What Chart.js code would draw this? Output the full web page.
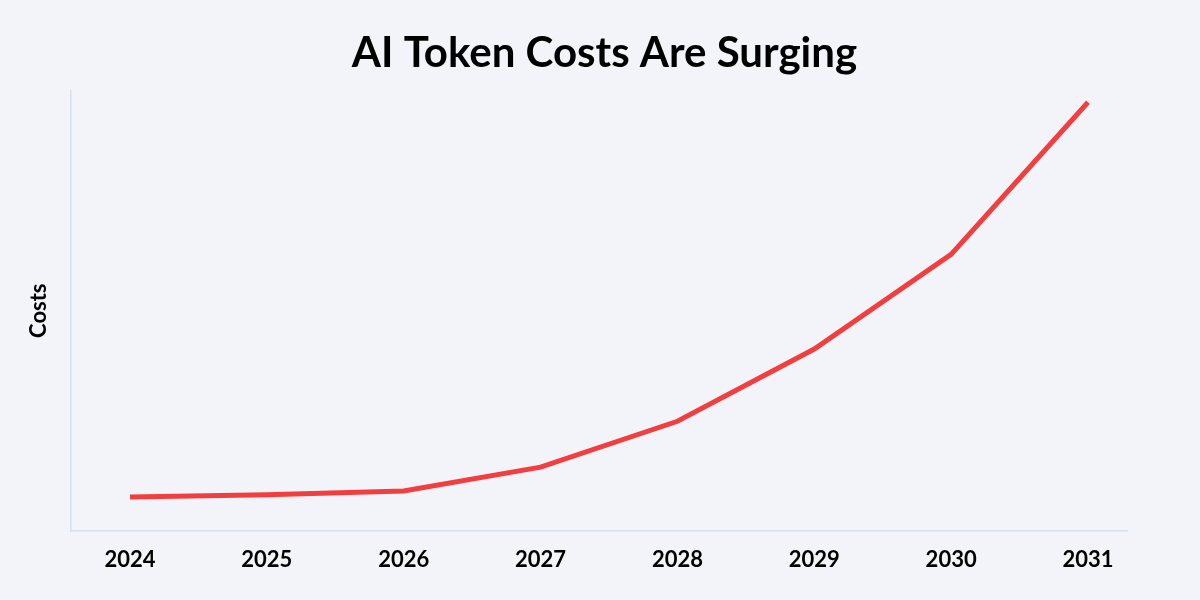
<!DOCTYPE html>
<html>
<head>
<meta charset="utf-8">
<script src="https://cdn.jsdelivr.net/npm/chart.js@4/dist/chart.umd.min.js"></script>
<style>
  html, body { margin: 0; padding: 0; background: #f2f4f9; }
  #wrap { width: 1200px; height: 600px; position: relative; }
</style>
</head>
<body>
<div id="wrap"><canvas id="c" width="1200" height="600"></canvas></div>
<script>
const titleText = "AI Token Costs Are Surging";
const yAxisTitle = "Costs";
const years = ["2024", "2025", "2026", "2027", "2028", "2029", "2030", "2031"];
const costs = [7.7, 8.2, 9.1, 14.5, 24.9, 41.3, 62.8, 97.3];

const FONT = "Lato, 'Open Sans', sans-serif";
const points = years.map((y, i) => ({ x: parseInt(y, 10), y: costs[i] }));

const bgPlugin = {
  id: 'bg',
  beforeDraw(chart) {
    const ctx = chart.ctx;
    ctx.save();
    ctx.fillStyle = '#f2f4f9';
    ctx.fillRect(0, 0, chart.width, chart.height);
    ctx.restore();
  }
};

new Chart(document.getElementById('c'), {
  type: 'line',
  data: {
    datasets: [{
      data: points,
      borderColor: '#f23e3f',
      borderWidth: 5,
      pointRadius: 0,
      tension: 0,
      fill: false
    }]
  },
  options: {
    responsive: false,
    animation: false,
    devicePixelRatio: 1,
    layout: { padding: { left: 26, right: 17, top: 0, bottom: 0 } },
    plugins: {
      legend: { display: false },
      tooltip: { enabled: false },
      title: {
        display: true,
        text: titleText,
        color: '#000000',
        font: { family: FONT, size: 42, weight: 'bold', lineHeight: 1.2 },
        padding: { top: 28, bottom: 12 }
      }
    },
    scales: {
      x: {
        type: 'linear',
        min: 2023.569,
        max: 2031.285,
        afterBuildTicks(scale) {
          scale.ticks = years.map(y => ({ value: parseInt(y, 10) }));
        },
        afterFit(scale) { scale.height = 69; },
        grid: { display: false, drawTicks: false },
        border: { display: true, color: '#d6e0ec', width: 1.5 },
        ticks: {
          color: '#000000',
          padding: 16,
          font: { family: FONT, size: 22, weight: 'bold' },
          callback: (v) => String(v)
        }
      },
      y: {
        min: 0,
        max: 100,
        afterFit(scale) { scale.width = 45; },
        grid: { display: false, drawTicks: false },
        border: { display: true, color: '#d6e0ec', width: 1.5 },
        ticks: { display: false },
        title: {
          display: true,
          text: yAxisTitle,
          color: '#000000',
          font: { family: FONT, size: 22, weight: 'bold' },
          padding: { top: 0, bottom: 0 }
        }
      },
      yRight: {
        position: 'right',
        display: true,
        min: 0,
        max: 100,
        afterFit(scale) { scale.width = 56; },
        grid: { display: false, drawTicks: false },
        border: { display: false },
        ticks: { display: false }
      }
    }
  },
  plugins: [bgPlugin]
});
</script>
</body>
</html>
